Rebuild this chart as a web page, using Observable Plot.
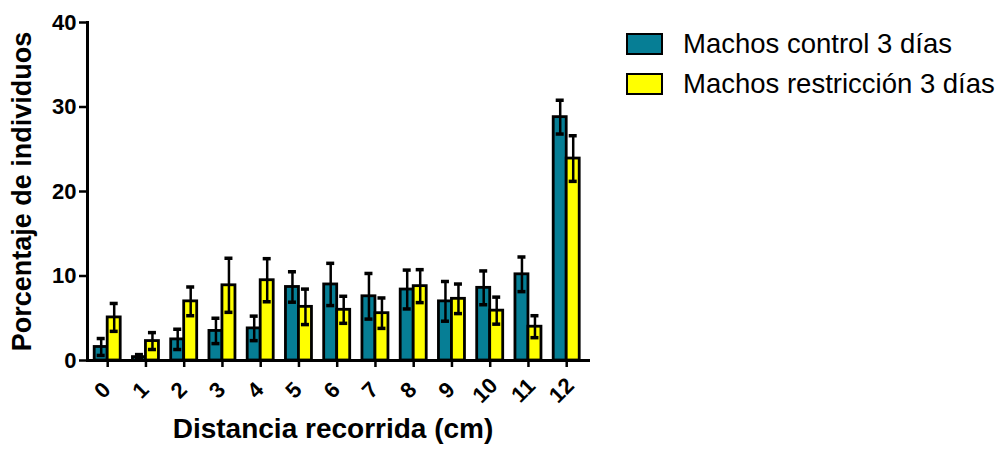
<!DOCTYPE html>
<html>
<head>
<meta charset="utf-8">
<script src="https://cdn.jsdelivr.net/npm/d3@7"></script>
<script src="https://cdn.jsdelivr.net/npm/@observablehq/plot@0.6"></script>
<style>
  html, body { margin: 0; padding: 0; background: #fff; }
  #chart { position: relative; width: 1007px; height: 453px; font-family: "Liberation Sans", Arial, sans-serif; }
  #chart svg { display: block; overflow: visible; }
  .legend { position: absolute; left: 626px; top: 31px; color: #000; font-size: 27.5px; }
  .legend .row { display: flex; align-items: center; height: 26px; margin-bottom: 14px; }
  .legend .sw { width: 33px; height: 18px; border: 2.5px solid #000; margin-right: 20px; }
</style>
</head>
<body>
<div id="chart"></div>
<script>
// Distance travelled (cm) per category and % of individuals, mean ± SE
const categories = ["0", "1", "2", "3", "4", "5", "6", "7", "8", "9", "10", "11", "12"];
const seriesNames = ["Machos control 3 días", "Machos restricción 3 días"];
const seriesColors = ["#067e95", "#ffff00"];
const control = [1.6, 0.4, 2.5, 3.5, 3.8, 8.7, 9.0, 7.6, 8.4, 7.0, 8.6, 10.2, 28.8];
const controlSE = [1.0, 0.3, 1.2, 1.5, 1.45, 1.8, 2.5, 2.7, 2.3, 2.35, 2.0, 2.05, 2.0];
const restriction = [5.1, 2.3, 7.0, 8.9, 9.5, 6.35, 6.0, 5.6, 8.8, 7.3, 5.9, 4.0, 23.9];
const restrictionSE = [1.65, 1.0, 1.7, 3.2, 2.55, 2.1, 1.6, 1.8, 1.95, 1.75, 1.6, 1.3, 2.7];
const yTicks = [0, 10, 20, 30, 40];
const xTitle = "Distancia recorrida (cm)";
const yTitle = "Porcentaje de individuos";

const rowsFor = (name, values, errors) =>
  categories.map((cat, i) => ({cat, series: name, value: values[i], lo: values[i] - errors[i], hi: values[i] + errors[i]}));
const ctrl = rowsFor(seriesNames[0], control, controlSE);
const rest = rowsFor(seriesNames[1], restriction, restrictionSE);

const half = 13;   // half of the band: one bar per side of the tick
const font = "Liberation Sans, Arial, sans-serif";

const errorMarks = (rows, side) => {
  const dx = side * half / 2;
  const capIn = side < 0 ? {insetLeft: 2.5, insetRight: 15.5} : {insetLeft: 15.5, insetRight: 2.5};
  return [
    Plot.ruleX(rows, {x: "cat", y1: "lo", y2: "hi", dx, stroke: "#000", strokeWidth: 2.5}),
    Plot.tickY(rows, {x: "cat", y: "hi", stroke: "#000", strokeWidth: 3.5, ...capIn}),
    Plot.tickY(rows, {x: "cat", y: "lo", stroke: "#000", strokeWidth: 3.5, ...capIn})
  ];
};

const chart = Plot.plot({
  width: 1007,
  height: 453,
  marginLeft: 87,
  marginRight: 417,
  marginTop: 22,
  marginBottom: 93,
  style: {fontFamily: font, color: "#000", background: "#fff"},
  x: {domain: categories, paddingInner: 0.32, paddingOuter: 0.235, align: 0.4, round: false, axis: null},
  y: {domain: [0, 40], axis: null},
  color: {domain: seriesNames, range: seriesColors},
  marks: [
    Plot.barY(ctrl, {x: "cat", y: "value", fill: "series", stroke: "#000", strokeWidth: 2.8, insetRight: half}),
    Plot.barY(rest, {x: "cat", y: "value", fill: "series", stroke: "#000", strokeWidth: 2.8, insetLeft: half}),
    ...errorMarks(ctrl, -1),
    ...errorMarks(rest, 1),
    Plot.axisY({ticks: yTicks, tickSize: 8, tickPadding: 3, strokeWidth: 2.5, fontSize: 22, fontWeight: "bold", label: null}),
    Plot.axisX({tickSize: 7, strokeWidth: 2.5, tickFormat: () => "", label: null}),
    Plot.text(categories, {x: d => d, frameAnchor: "bottom", dy: 35, rotate: -45, textAnchor: "middle", fontSize: 22, fontWeight: "bold"}),
    Plot.frame({anchor: "left", strokeWidth: 3}),
    Plot.ruleY([0], {strokeWidth: 3}),
    Plot.text([xTitle], {frameAnchor: "bottom", dy: 77, dx: -6, textAnchor: "middle", fontSize: 28, fontWeight: "bold"}),
    Plot.text([yTitle], {frameAnchor: "left", dx: -65, rotate: -90, textAnchor: "middle", fontSize: 27, fontWeight: "bold"})
  ]
});

const root = document.getElementById("chart");
root.appendChild(chart);

// Legend for the two series
const legend = document.createElement("div");
legend.className = "legend";
seriesNames.forEach((name, i) => {
  const row = document.createElement("div");
  row.className = "row";
  const sw = document.createElement("span");
  sw.className = "sw";
  sw.style.background = seriesColors[i];
  const label = document.createElement("span");
  label.textContent = name;
  row.append(sw, label);
  legend.appendChild(row);
});
root.appendChild(legend);
</script>
</body>
</html>
